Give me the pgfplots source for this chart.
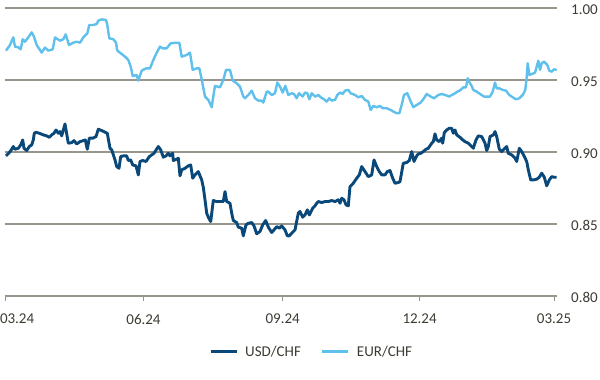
\documentclass[border=0pt]{standalone}
\usepackage{pgfplots}
\pgfplotsset{compat=1.18}
\usepackage{fontspec}
\setmainfont{Carlito}
\definecolor{usd}{RGB}{10,72,122}
\definecolor{eur}{RGB}{95,192,236}
\definecolor{gridc}{RGB}{152,150,140}
\definecolor{txt}{RGB}{60,60,52}
\newcommand\lab{\fontsize{15bp}{18bp}\selectfont}
\begin{document}
\begin{tikzpicture}
\begin{axis}[
  at={(0,0)}, anchor=south west,
  scale only axis, width=552bp, height=288bp,
  xmin=5, xmax=557, ymin=0.80, ymax=1.00,
  axis x line*=bottom, axis y line*=right,
  y axis line style={draw=none},
  x axis line style={draw=gridc, line width=1.2bp},
  xtick={5,143.5,282.7,419.6,554},
  xticklabels={\makebox[0pt][l]{\hspace{-5bp}03.24},06.24,09.24,12.24,03.25},
  ytick={0.80,0.85,0.90,0.95,1.00},
  yticklabels={0.80,0.85,0.90,0.95,1.00},
  ymajorgrids, major grid style={draw=gridc, line width=1.2bp},
  ytick style={draw=none},
  xtick style={draw=gridc, line width=1bp},
  tick align=outside, major tick length=5bp,
  /pgf/number format/assume math mode=true,
  every tick label/.append style={font=\lab, text=txt},
  yticklabel style={anchor=west, inner sep=0pt, xshift=9bp, yshift=-1.5bp},
  xticklabel style={anchor=north, inner sep=0pt, yshift=-13bp},
  clip=false,
  legend columns=2,
  legend style={draw=none, fill=none, at={(axis description cs:0.3696,-0.1944)}, anchor=west,
    inner sep=0pt, font=\lab, text=txt,
    /tikz/every odd column/.append style={column sep=5bp},
    /tikz/every even column/.append style={column sep=18bp}},
  legend cell align=left,
  legend image code/.code={\draw[#1, line width=3bp] (0bp,0bp) -- (26bp,0bp);},
]
\addplot[usd, line width=2.9bp, line join=round] coordinates {
(6,.8973) (9.3,.8996) (11.7,.9019) (13.3,.9038) (15,.9019) (18.3,.9026) (20.7,.9049) (22.7,.9084) (24,.9026) (26.7,.9010)
(29.3,.9038) (31.7,.9049) (33.3,.9084) (34.3,.9130) (36,.9137) (39.3,.9130) (43.3,.9119) (46.7,.9112) (49.3,.9102) (51.7,.9119)
(54,.9130) (56,.9153) (58.3,.9130) (60,.9142) (61.7,.9112) (65,.9195) (68.3,.9061) (71.7,.9065) (74,.9079) (76.7,.9056)
(80,.9072) (83.3,.9079) (85.3,.9084) (87.3,.9019) (89.3,.9096) (92.7,.9096) (96,.9107) (98.3,.9158) (101.7,.9149) (107.3,.9130)
(110,.9026) (111.7,.9015) (115,.8945) (116.7,.8899) (119,.8887) (120.7,.8968) (123.3,.8973) (126.7,.8973) (128.3,.8941) (130.7,.8945)
(132.7,.8910) (136,.8904) (138.3,.8841) (140,.8934) (142.7,.8941) (146,.8934) (149.3,.8968) (154,.8991) (158.3,.9038) (160.7,.9015)
(163.3,.8964) (166,.8973) (168.3,.8991) (170,.8973) (172.7,.8991) (173.3,.8941) (176.7,.8950) (178.3,.8957) (180,.8834) (181.7,.8876)
(185,.8887) (188.3,.8904) (190.7,.8910) (192.7,.8818) (195,.8841) (198.3,.8864) (201.7,.8806) (203.3,.8755) (205,.8668) (206.7,.8575)
(208.3,.8547) (210.7,.8517) (213.3,.8663) (216.7,.8656) (220,.8656) (223.3,.8656) (225,.8725) (226.7,.8656) (230,.8644) (231.7,.8575)
(233.3,.8524) (236.7,.8510) (238.3,.8478) (241.7,.8471) (243.3,.8418) (246,.8494) (248.3,.8505) (251.7,.8510) (254,.8487) (256.7,.8432)
(260,.8448) (262.7,.8494) (265.7,.8524) (268.3,.8478) (271.7,.8441) (274,.8459) (276.7,.8482) (279.3,.8471) (281.7,.8487) (285,.8459)
(287.3,.8418) (289.3,.8418) (291.7,.8436) (295,.8459) (298.3,.8575)
(300,.8587) (302.7,.8547) (305,.8563) (307.3,.8598) (309.3,.8563) (312.7,.8610) (315,.8626) (316.7,.8644) (318.3,.8656) (321.7,.8649)
(325,.8656) (328.3,.8656) (331.7,.8663) (335,.8656) (338.3,.8668) (340,.8644) (341.7,.8679) (344,.8668) (346,.8633) (348.3,.8626)
(350,.8760) (353.3,.8783) (356.7,.8818) (359.3,.8841) (361.7,.8899) (365,.8864) (368.3,.8829) (371.7,.8841) (374,.8945) (376.7,.8899)
(379.3,.8864) (381.7,.8841) (385,.8841) (387.3,.8864) (390,.8871) (392.7,.8818) (395,.8783) (398.3,.8788) (400,.8795) (403.3,.8922)
(406.7,.8927) (409.3,.8941) (411.7,.9003) (414,.8934) (416.7,.8973) (418.3,.8987) (420.7,.8991) (423.3,.9003) (426,.9019) (428.3,.9026)
(431.7,.9061) (433.3,.9072) (435,.9126) (436.7,.9084) (439.3,.9072) (441.7,.9096) (442.7,.9061) (444.3,.9135) (446.7,.9153) (449.3,.9165)
(451.7,.9165) (453.3,.9130) (455,.9153) (456.7,.9119) (460,.9102) (462.7,.9084) (465,.9072) (468.3,.9061) (471.7,.9038) (473.3,.9026)
(476,.9084) (478.3,.9112) (481.7,.9107) (485,.9061) (486.7,.9010) (488.3,.9038) (490,.9107) (493.3,.9119) (495,.9142) (496.7,.9107)
(499.3,.9019) (501.7,.9003) (503.3,.9015) (506.7,.9038) (508.3,.8991) (511.7,.8980) (515,.8957) (516.7,.8934) (519.3,.9026) (521.7,.9003)
(524,.8973) (526.7,.8934) (528.3,.8876) (530.7,.8806) (533.3,.8806) (536.7,.8811) (539.3,.8825) (541.7,.8853) (544.3,.8825) (546.7,.8765)
(549.3,.8806) (551.7,.8829) (554,.8825) (556.7,.8825)
};
\addlegendentry{USD/CHF}
\addplot[eur, line width=2.4bp, line join=round] coordinates {
(6,.9704) (10,.9743) (13.3,.9796) (15,.9732) (18.3,.9727) (20.7,.9713) (22.7,.9783) (25,.9766) (28.3,.9796) (31.7,.9831)
(34,.9801) (36.7,.9743) (41.7,.9690) (45,.9725) (48.3,.9704) (52.7,.9713) (55,.9796) (60,.9773) (63.3,.9783) (65.7,.9817)
(69,.9743) (73.3,.9759) (76.7,.9766) (80,.9759) (83.3,.9796) (87.3,.9824) (89.3,.9882) (93.3,.9882) (96.7,.9889) (98.3,.9912)
(101.7,.9921) (106,.9917) (107.3,.9882) (109.3,.9789) (113.3,.9783) (116,.9759) (117.3,.9704) (120,.9690) (125,.9662) (128.3,.9639)
(130.7,.9593) (132.7,.9528) (136.7,.9535) (138.3,.9496) (141.7,.9565) (146,.9581) (150,.9581) (153.3,.9639) (156.7,.9690) (160,.9732)
(162.7,.9720) (166.7,.9720) (170.7,.9755) (176,.9759) (179.3,.9759) (181.7,.9662) (186.7,.9674) (190,.9690) (192.7,.9570) (196.7,.9581)
(199.3,.9581) (201.7,.9505) (205,.9385) (208.3,.9362) (211.7,.9311) (213.3,.9385) (215,.9459) (220,.9449) (223.3,.9500) (226,.9570)
(230,.9570) (232.7,.9496) (236.7,.9477) (240,.9454) (243.3,.9385) (245,.9373) (248.3,.9396) (251.7,.9426) (255,.9373) (258.3,.9357)
(261.7,.9357) (263.3,.9343) (266.7,.9419) (268.3,.9419) (271.7,.9396) (275,.9408) (277.3,.9482) (280,.9454) (282.7,.9413) (285.3,.9459)
(288.3,.9396) (291.7,.9408) (294,.9403) (296.7,.9373) (299,.9408)
(302.7,.9385) (305,.9413) (307.3,.9408) (309.3,.9366) (311.7,.9408) (315,.9385) (318.3,.9396) (320.7,.9380) (324,.9366)
(326.7,.9350) (329.3,.9373) (331.7,.9357) (335,.9362) (337.3,.9396) (340,.9413) (342.7,.9403) (345,.9426) (348.3,.9431) (350.7,.9408)
(355,.9396) (358.3,.9380) (361.7,.9389) (365,.9362) (368.3,.9350) (370.7,.9292) (373.3,.9320) (376.7,.9311) (380,.9320) (382.7,.9304)
(386.7,.9304) (390.7,.9292) (393.3,.9281) (396.7,.9269) (399.3,.9269) (401.7,.9327) (404,.9396) (407.3,.9408) (410,.9362) (413.3,.9311)
(416.7,.9327) (420.7,.9343) (424,.9373) (426.7,.9403) (430.7,.9385) (434,.9373) (438.3,.9396) (441.7,.9403) (445,.9396) (449.3,.9385)
(451.7,.9396) (454,.9403) (457.3,.9419) (460.7,.9431) (463.3,.9449) (466,.9449) (467.7,.9512) (470,.9477) (471.7,.9459) (473.3,.9431)
(476.7,.9419) (480,.9403) (484,.9385) (486.7,.9385) (490,.9385) (492.7,.9419) (495,.9482) (496.7,.9442) (499.3,.9442) (502.7,.9431)
(506,.9426) (509.3,.9396) (512.7,.9380) (516,.9366) (519.3,.9373) (522.7,.9396) (525.3,.9431) (526.7,.9523) (527.7,.9616) (529.3,.9535)
(532,.9542) (535,.9551) (536.7,.9593) (538.3,.9634) (540,.9570) (541.7,.9616) (544,.9628) (547.3,.9604) (549.3,.9565) (551.7,.9558)
(554,.9574) (556.7,.9570)
};
\addlegendentry{EUR/CHF}
\end{axis}
\pgfresetboundingbox
\path (-5bp,-84bp) rectangle (595bp,296bp);
\end{tikzpicture}
\end{document}
